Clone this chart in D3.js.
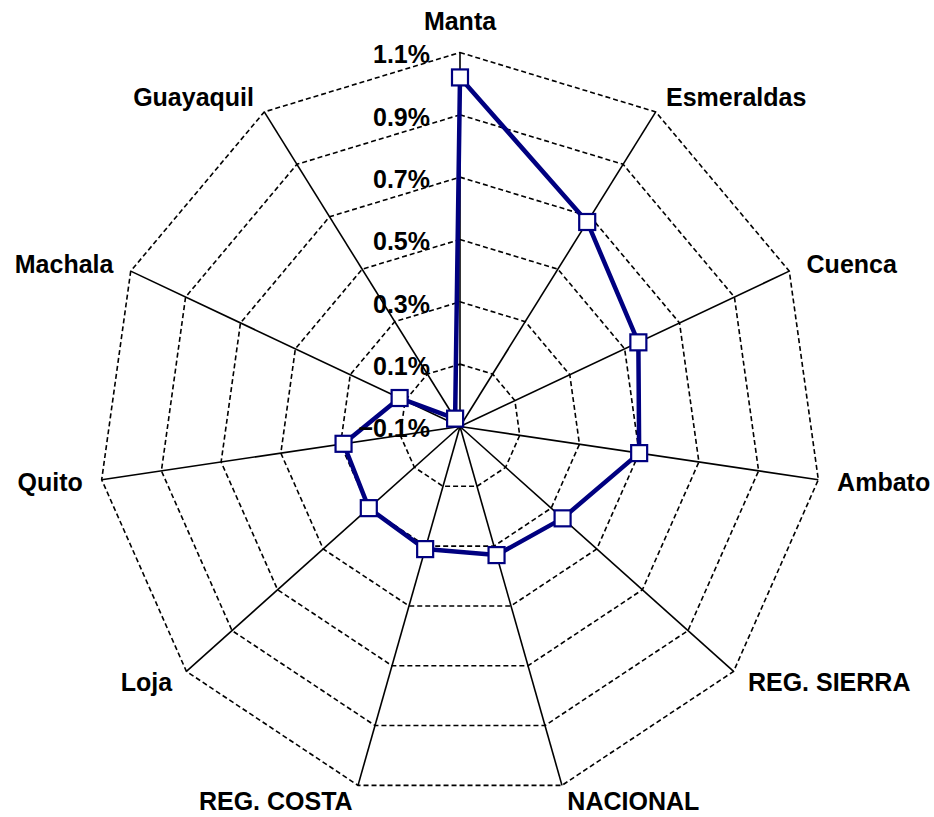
<!DOCTYPE html>
<html>
<head>
<meta charset="utf-8">
<script src="https://cdn.jsdelivr.net/npm/d3@7"></script>
<style>
  body { margin: 0; background: #fff; }
  text { font-family: "Liberation Sans", Arial, sans-serif; font-weight: bold; fill: #000; }
</style>
</head>
<body>
<div id="radar-vis"></div>
<script>
// axis names, clockwise from the top
var categories = ["Manta", "Esmeraldas", "Cuenca", "Ambato", "REG. SIERRA", "NACIONAL",
  "REG. COSTA", "Loja", "Quito", "Machala", "Guayaquil"];
// values in percent
var values = [1.02, 0.68, 0.55, 0.50, 0.35, 0.33, 0.31, 0.30, 0.29, 0.12, -0.07];
var tickValues = [-0.1, 0.1, 0.3, 0.5, 0.7, 0.9, 1.1];

RadarVis = function(_parentElement, _categories, _values) {
  this.parentElement = _parentElement;
  this.categories = _categories;
  this.values = _values;
  this.initVis();
};

RadarVis.prototype.initVis = function() {
  var vis = this;

  vis.width = 934;
  vis.height = 817;
  vis.cx = 460;
  vis.cy = 426.5;

  vis.svg = d3.select("#" + vis.parentElement).append("svg")
    .attr("width", vis.width)
    .attr("height", vis.height);

  // plot area is slightly wider than tall in the original, so two radial scales
  vis.rx = d3.scaleLinear().domain([-0.1, 1.1]).range([0, 362]);
  vis.ry = d3.scaleLinear().domain([-0.1, 1.1]).range([0, 374]);

  vis.angle = d3.scalePoint()
    .domain(d3.range(vis.categories.length + 1))
    .range([0, 2 * Math.PI]);

  vis.pos = function(i, v) {
    var a = vis.angle(i % vis.categories.length);
    return [vis.cx + Math.sin(a) * vis.rx(v), vis.cy - Math.cos(a) * vis.ry(v)];
  };

  vis.updateVis();
};

RadarVis.prototype.updateVis = function() {
  var vis = this;
  var n = vis.categories.length;
  var idx = d3.range(n);
  var maxV = tickValues[tickValues.length - 1];

  // dashed rings
  vis.svg.selectAll(".ring")
    .data(tickValues.slice(1))
    .enter()
    .append("path")
    .attr("class", "ring")
    .attr("d", (d) => {
      return d3.line()(idx.map((i) => vis.pos(i, d))) + "Z";
    })
    .attr("fill", "none")
    .attr("stroke", "#000")
    .attr("stroke-width", 1.6)
    .attr("stroke-dasharray", "5,3");

  // spokes
  vis.svg.selectAll(".spoke")
    .data(idx)
    .enter()
    .append("line")
    .attr("class", "spoke")
    .attr("x1", vis.cx)
    .attr("y1", vis.cy)
    .attr("x2", (i) => vis.pos(i, maxV)[0])
    .attr("y2", (i) => vis.pos(i, maxV)[1])
    .attr("stroke", "#000")
    .attr("stroke-width", 1.6);

  // series
  vis.svg.append("path")
    .datum(vis.values)
    .attr("fill", "none")
    .attr("stroke", "#000080")
    .attr("stroke-width", 4.5)
    .attr("stroke-linejoin", "round")
    .attr("d", (d) => {
      return d3.line()(d.map((v, i) => vis.pos(i, v))) + "Z";
    });

  vis.svg.selectAll(".marker")
    .data(vis.values)
    .enter()
    .append("rect")
    .attr("class", "marker")
    .attr("x", (d, i) => vis.pos(i, d)[0] - 8)
    .attr("y", (d, i) => vis.pos(i, d)[1] - 8)
    .attr("width", 16)
    .attr("height", 16)
    .attr("fill", "#fff")
    .attr("stroke", "#000080")
    .attr("stroke-width", 2.2);

  // tick labels along the first axis
  var fmt = d3.format(".1f");
  vis.svg.selectAll(".tick-label")
    .data(tickValues)
    .enter()
    .append("text")
    .attr("class", "tick-label")
    .attr("x", vis.cx - 30)
    .attr("y", (d) => vis.pos(0, d)[1] + 2)
    .attr("dy", "0.35em")
    .attr("text-anchor", "end")
    .style("font-size", "25px")
    .text((d) => fmt(d) + "%");

  // category labels around the outer ring
  vis.svg.selectAll(".cat-label")
    .data(vis.categories)
    .enter()
    .append("text")
    .attr("class", "cat-label")
    .attr("x", (d, i) => {
      var a = vis.angle(i);
      return vis.pos(i, maxV)[0] + Math.sin(a) * 19;
    })
    .attr("y", (d, i) => {
      var a = vis.angle(i);
      var off = Math.abs(Math.sin(a)) < 0.01 ? 31 : 17;
      return vis.pos(i, maxV)[1] - Math.cos(a) * off;
    })
    .attr("dy", "0.35em")
    .attr("text-anchor", (d, i) => {
      var s = Math.sin(vis.angle(i));
      if (s > 0.01) return "start";
      if (s < -0.01) return "end";
      return "middle";
    })
    .style("font-size", "25px")
    .text((d) => d);
};

var radar = new RadarVis("radar-vis", categories, values);
</script>
</body>
</html>
